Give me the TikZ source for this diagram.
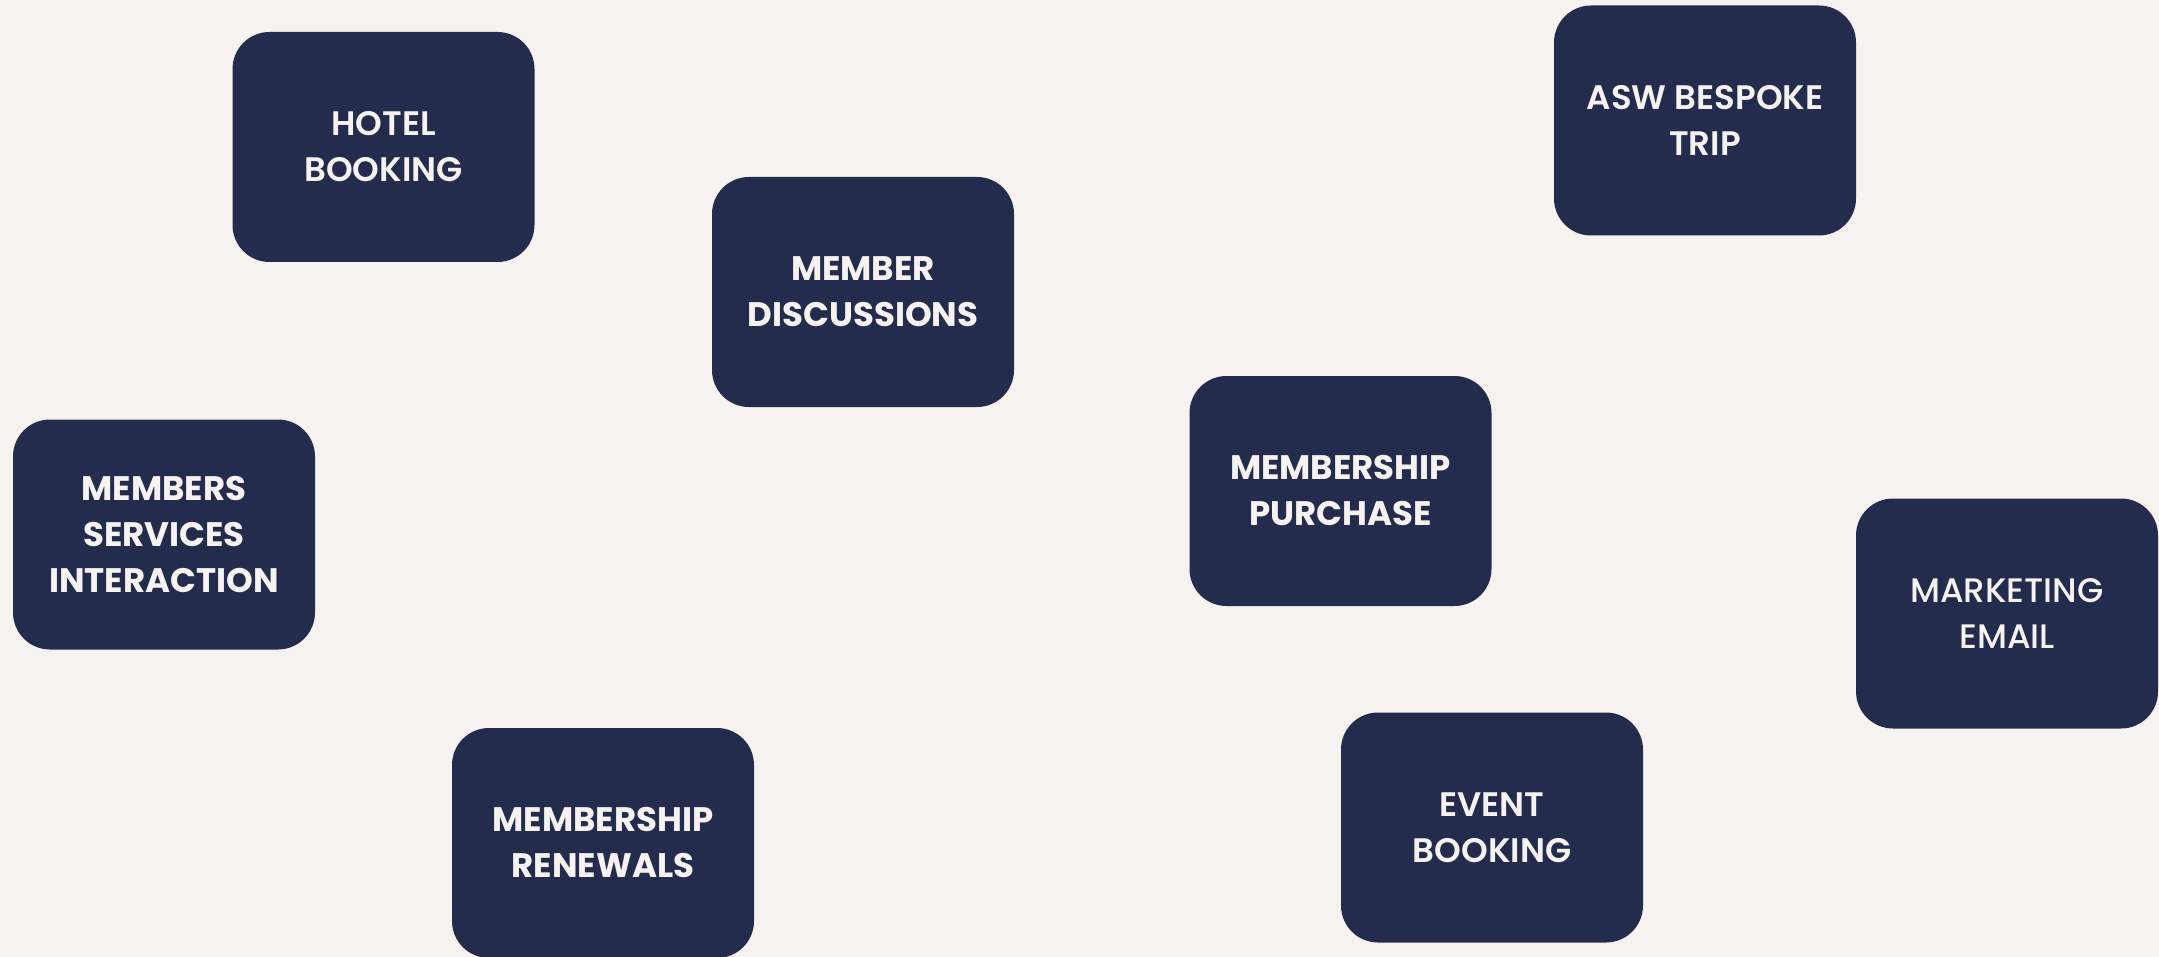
\documentclass[tikz,border=0pt]{standalone}
\usepackage{fontspec}
\setmainfont{Poppins}
\newfontfamily\heavyfont{Poppins Bold}
\newfontfamily\demifont{Poppins SemiBold}
\newfontfamily\mediumfont{Poppins Medium}

\definecolor{paper}{RGB}{245,242,239}
\definecolor{navy}{RGB}{36,44,77}

\tikzset{
  box/.style={fill=navy, rounded corners=37pt, minimum width=302pt,
    minimum height=230pt, align=center, text=paper, font=\heavyfont\fontsize{34}{46}\selectfont},
  demibox/.style={box, font=\demifont\fontsize{34}{46}\selectfont},
  lightbox/.style={box, font=\mediumfont\fontsize{34}{46}\selectfont}
}

\begin{document}
\begin{tikzpicture}[x=1pt, y=-1pt]
% background
\fill[paper] (0,0) rectangle (2159,957);
\useasboundingbox (0,0) rectangle (2159,957);

% top row
\node[demibox] (hotel) at (383.5,147) {HOTEL\\BOOKING};
\node[box] (discussions) at (863,292) {MEMBER\\DISCUSSIONS};
\node[demibox] (bespoke) at (1705,120.5) {ASW BESPOKE\\TRIP};

% middle row
\node[box] (services) at (164,534.5) {MEMBERS\\SERVICES\\INTERACTION};
\node[box] (purchase) at (1340.5,491) {MEMBERSHIP\\PURCHASE};
\node[lightbox] (marketing) at (2007,613.5) {MARKETING\\EMAIL};

% bottom row
\node[box] (renewals) at (603,843) {MEMBERSHIP\\RENEWALS};
\node[demibox] (event) at (1492,827.5) {EVENT\\BOOKING};
\end{tikzpicture}
\end{document}
